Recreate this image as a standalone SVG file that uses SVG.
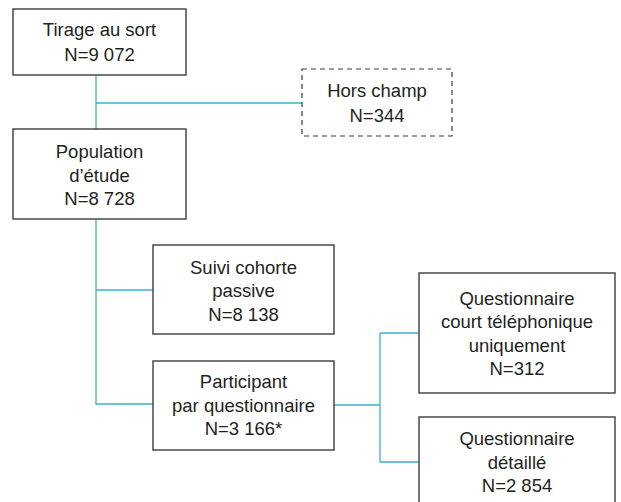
<svg xmlns="http://www.w3.org/2000/svg" width="621" height="502" viewBox="0 0 621 502">
<style>
.box{fill:#fff;stroke:#3d3d3d;stroke-width:1.4}
.dash{fill:#fff;stroke:#3d3d3d;stroke-width:1.2;stroke-dasharray:5,4}
.conn{fill:none;stroke:#3cb1cf;stroke-width:1.3}
text{font-family:"Liberation Sans",Arial,sans-serif;font-size:18.5px;fill:#231f20;text-anchor:middle}
</style>
<rect width="621" height="502" fill="#fff"/>
<g id="connectors">
<path class="conn" d="M96,75 V129 M96,103 H302"/>
<path class="conn" d="M96,219 V404 H153 M96,290 H153"/>
<path class="conn" d="M334,405 H380 M380,333 V462 M380,333 H419 M380,462 H419"/>
</g>
<g id="tirage">
<rect class="box" x="13" y="9" width="173" height="66"/>
<text x="99.5" y="36">Tirage au sort</text>
<text x="99.5" y="60.5">N=9 072</text>
</g>
<g id="hors">
<rect class="dash" x="302" y="69" width="150" height="67"/>
<text x="377" y="96.5">Hors champ</text>
<text x="377" y="122">N=344</text>
</g>
<g id="population">
<rect class="box" x="13" y="129" width="173" height="90"/>
<text x="99.5" y="158">Population</text>
<text x="99.5" y="181.5">d’étude</text>
<text x="99.5" y="205">N=8 728</text>
</g>
<g id="suivi">
<rect class="box" x="153" y="245" width="181" height="89"/>
<text x="243.5" y="273.5">Suivi cohorte</text>
<text x="243.5" y="297">passive</text>
<text x="243.5" y="320.5">N=8 138</text>
</g>
<g id="participant">
<rect class="box" x="153" y="361" width="181" height="89"/>
<text x="243.5" y="388">Participant</text>
<text x="243.5" y="411.5">par questionnaire</text>
<text x="243.5" y="435">N=3 166*</text>
</g>
<g id="court">
<rect class="box" x="419" y="273" width="196" height="120"/>
<text x="517" y="304.5">Questionnaire</text>
<text x="517" y="328">court téléphonique</text>
<text x="517" y="351.5">uniquement</text>
<text x="517" y="375">N=312</text>
</g>
<g id="detaille">
<rect class="box" x="419" y="417" width="196" height="100"/>
<text x="517" y="445">Questionnaire</text>
<text x="517" y="468.5">détaillé</text>
<text x="517" y="492">N=2 854</text>
</g>
</svg>
